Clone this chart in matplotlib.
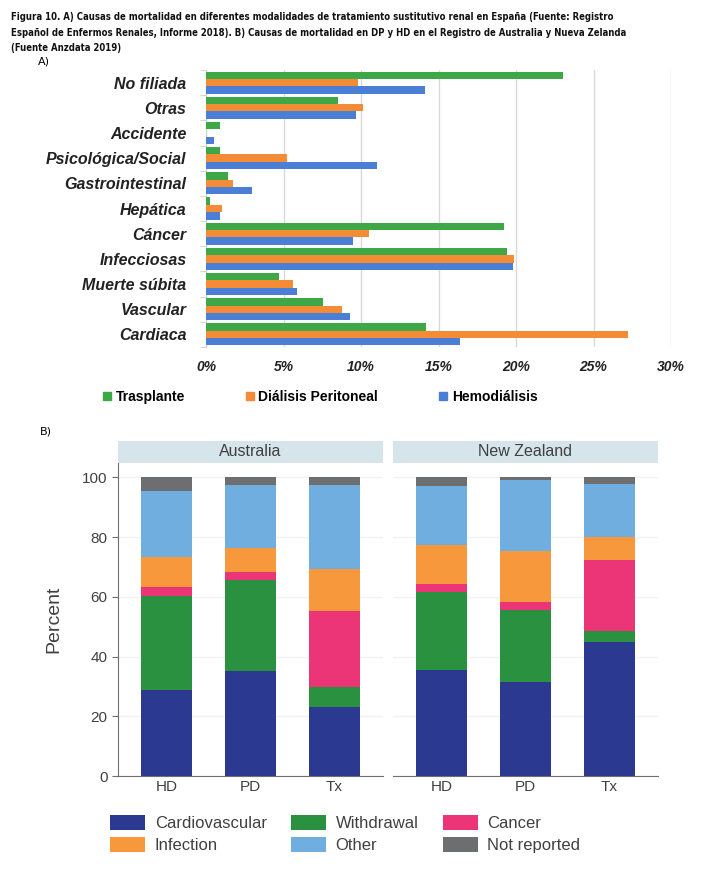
import matplotlib
matplotlib.use("Agg")
import matplotlib.pyplot as plt
from matplotlib.patches import Patch, Rectangle
from matplotlib.lines import Line2D
import numpy as np

# --- A) Causas de mortalidad (%), Registro Español 2018
categorias = ['No filiada', 'Otras', 'Accidente', 'Psicológica/Social', 'Gastrointestinal',
              'Hepática', 'Cáncer', 'Infecciosas', 'Muerte súbita', 'Vascular', 'Cardiaca']
trasplante = [23.0, 8.5, 0.9, 0.9, 1.4, 0.25, 19.2, 19.4, 4.7, 7.55, 14.2]
dialisis_pd = [9.8, 10.15, 0.0, 5.25, 1.75, 1.05, 10.5, 19.9, 5.6, 8.75, 27.2]
hemodialisis = [14.1, 9.7, 0.5, 11.0, 2.95, 0.9, 9.5, 19.8, 5.9, 9.3, 16.4]
ticks_a = [0, 5, 10, 15, 20, 25, 30]

# --- B) ANZDATA 2019 (percent)
grupos = ['HD', 'PD', 'Tx']
causas = ['Cardiovascular', 'Withdrawal', 'Cancer', 'Infection', 'Other', 'Not reported']
aus_cv = [28.9, 35.1, 23.0]
aus_w = [31.4, 30.4, 6.8]
aus_ca = [2.9, 2.9, 25.6]
aus_inf = [10.1, 8.1, 14.0]
aus_oth = [22.0, 21.0, 28.1]
aus_nr = [4.7, 2.5, 2.5]
nz_cv = [35.4, 31.5, 44.7]
nz_w = [26.2, 24.0, 3.9]
nz_ca = [2.6, 2.8, 23.7]
nz_inf = [13.0, 16.9, 7.8]
nz_oth = [20.0, 23.9, 17.8]
nz_nr = [2.8, 0.9, 2.1]

caption = ["Figura 10. A) Causas de mortalidad en diferentes modalidades de tratamiento sustitutivo renal en España (Fuente: Registro",
           "Español de Enfermos Renales, Informe 2018). B) Causas de mortalidad en DP y HD en el Registro de Australia y Nueva Zelanda",
           "(Fuente Anzdata 2019)"]

col_a = {'tx': '#3da845', 'pd': '#f48b35', 'hd': '#4b7fd6'}
col_b = ['#2b3990', '#2a9140', '#ec3577', '#f7983d', '#6faede', '#6d6e70']
gris = '#404040'

W, H = 703, 881
fig = plt.figure(figsize=(W / 100, H / 100), dpi=100)

def fx(px):
    return px / W

def fy(px):
    return 1 - px / H

# caption lines, font size chosen so the first line spans ~604 px like the source
renderer = fig.canvas.get_renderer()
lineas = []
for i, linea in enumerate(caption):
    t = fig.text(fx(11), fy(17 + 15.5 * i), linea, ha='left', va='center', fontsize=8,
                 fontweight='bold', family='DejaVu Sans', fontstretch='condensed', color='#111111')
    lineas.append(t)
fs = 8 * 604 / lineas[0].get_window_extent(renderer).width
for t in lineas:
    t.set_fontsize(fs)
fig.text(fx(38), fy(62), 'A)', fontsize=8, va='center')
fig.text(fx(40), fy(432), 'B)', fontsize=8, va='center')

# ---------------- chart A
axa = fig.add_axes([fx(206), fy(347), fx(671) - fx(206), fy(70) - fy(347)])
y = np.arange(len(categorias))
h = 0.293
axa.barh(y - h, trasplante, height=h, color=col_a['tx'], zorder=3)
axa.barh(y, dialisis_pd, height=h, color=col_a['pd'], zorder=3)
axa.barh(y + h, hemodialisis, height=h, color=col_a['hd'], zorder=3)
axa.set_ylim(len(categorias) - 0.5, -0.5)
axa.set_xlim(0, 30)
axa.set_xticks(ticks_a)
axa.set_xticklabels([f'{t}%' for t in ticks_a], fontsize=10, fontweight='bold', fontstyle='italic',
                    family='Liberation Sans', color='#222222')
axa.set_yticks(y)
axa.set_yticklabels(categorias, fontsize=11.5, fontweight='bold', fontstyle='italic',
                    family='Liberation Sans', color='#222222')
axa.set_yticks(np.arange(-0.5, len(categorias), 1), minor=True)
axa.tick_params(axis='y', which='major', length=0, pad=14)
axa.tick_params(axis='y', which='minor', length=4, color='#d0d0d0')
axa.tick_params(axis='x', length=0, pad=9)
axa.grid(axis='x', color='#d9d9d9', linewidth=1, zorder=0)
for s in ['top', 'right', 'bottom']:
    axa.spines[s].set_visible(False)
axa.spines['left'].set_color('#d0d0d0')

hand_a = [Line2D([], [], marker='s', linestyle='none', markersize=6, color=col_a[k]) for k in ['tx', 'pd', 'hd']]
fig.legend(hand_a, ['Trasplante', 'Diálisis Peritoneal', 'Hemodiálisis'], ncol=3, frameon=False,
           loc='center left', bbox_to_anchor=(fx(96), fy(397)), handlelength=0.6, handletextpad=0.3,
           columnspacing=4.4, borderpad=0,
           prop={'family': 'Liberation Sans', 'weight': 'bold', 'size': 10})

# ---------------- chart B
paneles = [
    ('Australia', 118, [aus_cv, aus_w, aus_ca, aus_inf, aus_oth, aus_nr]),
    ('New Zealand', 393, [nz_cv, nz_w, nz_ca, nz_inf, nz_oth, nz_nr]),
]
x = np.arange(len(grupos))
for k, (nombre, left, series) in enumerate(paneles):
    ax = fig.add_axes([fx(left), fy(776), fx(265), fy(463) - fy(776)])
    base = np.zeros(len(grupos))
    for vals, c in zip(series, col_b):
        ax.bar(x, vals, width=0.61, bottom=base, color=c, zorder=3)
        base = base + np.array(vals)
    ax.set_xlim(-0.58, 2.58)
    ax.set_ylim(0, 104.8)
    ax.set_yticks([0, 20, 40, 60, 80, 100])
    ax.grid(axis='y', color='#f2f2f2', linewidth=1, zorder=0)
    ax.set_xticks(x)
    ax.set_xticklabels(grupos, fontsize=11, family='Liberation Sans', color=gris)
    ax.tick_params(axis='x', length=0, pad=3)
    for s in ['top', 'right']:
        ax.spines[s].set_visible(False)
    ax.spines['bottom'].set_color('#707070')
    ax.spines['left'].set_color('#707070')
    if k == 0:
        ax.tick_params(axis='y', length=4, color='#707070', labelsize=11, labelcolor=gris)
        for lab in ax.get_yticklabels():
            lab.set_family('Liberation Sans')
        ax.set_ylabel('Percent', fontsize=14, family='Liberation Sans', color=gris, labelpad=14)
    else:
        ax.spines['left'].set_visible(False)
        ax.tick_params(axis='y', length=0, labelleft=False)
    strip_h = 22 / 313
    ax.add_patch(Rectangle((0, 1), 1, strip_h, transform=ax.transAxes, facecolor='#d6e4ec',
                           edgecolor='none', clip_on=False))
    ax.text(0.5, 1 + strip_h / 2, nombre, transform=ax.transAxes, ha='center', va='center',
            fontsize=11.5, family='Liberation Sans', color=gris)

orden = [0, 3, 1, 4, 2, 5]
hand_b = [Patch(facecolor=col_b[i], edgecolor='none') for i in orden]
fig.legend(hand_b, [causas[i] for i in orden], ncol=3, frameon=False, loc='upper left',
           bbox_to_anchor=(fx(110), fy(815)), handlelength=2.1, handleheight=1.0,
           handletextpad=0.58, columnspacing=1.45, labelspacing=0.35, borderpad=0,
           borderaxespad=0, prop={'family': 'Liberation Sans', 'size': 12}, labelcolor=gris)

fig.savefig('out.png', dpi=100)
